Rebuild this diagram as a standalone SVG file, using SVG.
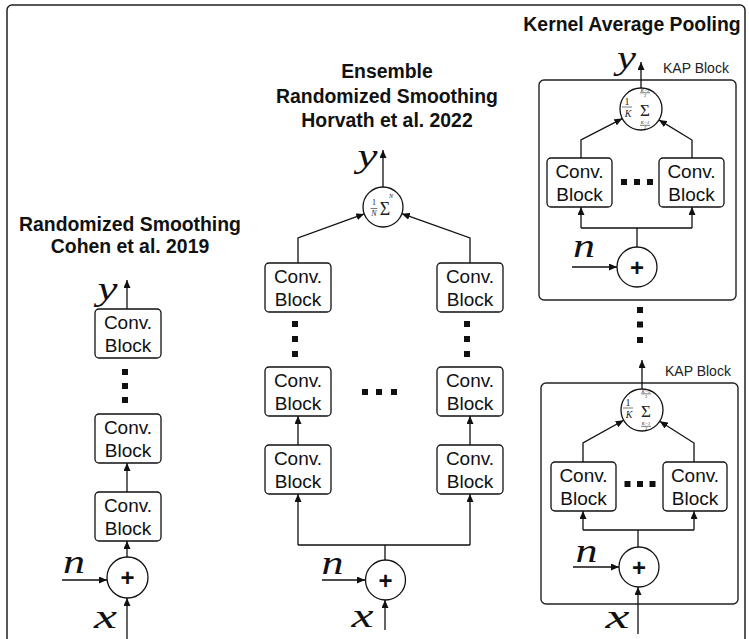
<svg xmlns="http://www.w3.org/2000/svg" width="749" height="639" viewBox="0 0 749 639">
<style>
.box{fill:#fff;stroke:#111;stroke-width:1.3}
.kap{fill:none;stroke:#222;stroke-width:1.4}
.circ{fill:#fff;stroke:#111;stroke-width:1.3}
.cl{font-family:"Liberation Sans",Arial,sans-serif;font-size:19px;fill:#111;text-anchor:middle}
.title{font-family:"Liberation Sans",Arial,sans-serif;font-size:19.4px;font-weight:bold;fill:#111;text-anchor:middle}
.small{font-family:"Liberation Sans",Arial,sans-serif;font-size:14px;fill:#222}
.math{font-family:"Liberation Serif","Times New Roman",serif;font-style:italic;font-size:34px;fill:#111;text-anchor:middle}
.plus{font-family:"Liberation Sans",Arial,sans-serif;font-size:24px;font-weight:bold;fill:#111;text-anchor:middle}
.ser{font-family:"Liberation Serif","Times New Roman",serif;fill:#222;text-anchor:middle}
.it{font-style:italic}
.conn line,.conn path{fill:none;stroke:#111;stroke-width:1.3}
.arr{marker-end:url(#ah)}
.dot{fill:#111}
.bar{stroke:#222;stroke-width:0.6}
</style>
<defs>
<marker id="ah" markerUnits="userSpaceOnUse" markerWidth="8" markerHeight="7" refX="8" refY="3.5" orient="auto">
<path d="M0,0 L8,3.5 L0,7 z" fill="#111"/>
</marker>
</defs>
<rect x="7" y="5" width="738" height="660" rx="5" fill="#fff" stroke="#222" stroke-width="1.5"/>

<!-- Titles -->
<g id="title-left">
<text class="title" x="130" y="231">Randomized Smoothing</text>
<text class="title" x="130" y="253">Cohen et al. 2019</text>
</g>
<g id="title-mid">
<text class="title" x="387" y="78">Ensemble</text>
<text class="title" x="387" y="103">Randomized Smoothing</text>
<text class="title" x="387" y="127">Horvath et al. 2022</text>
</g>
<g id="title-right">
<text class="title" x="632" y="31">Kernel Average Pooling</text>
</g>

<!-- KAP containers -->
<g id="kap1">
<rect class="kap" x="539" y="80" width="197" height="220" rx="5"/>
<text class="small" x="663" y="73">KAP Block</text>
</g>
<g id="kap2">
<rect class="kap" x="541" y="383" width="197" height="221" rx="5"/>
<text class="small" x="665" y="376">KAP Block</text>
</g>

<!-- Connectors -->
<g id="connectors" class="conn">
<!-- left -->
<line class="arr" x1="127" y1="309" x2="127" y2="280"/>
<line class="arr" x1="127" y1="492" x2="127" y2="463"/>
<line class="arr" x1="127" y1="557" x2="127" y2="541"/>
<line class="arr" x1="62" y1="580" x2="107" y2="580"/>
<line class="arr" x1="127" y1="639" x2="127" y2="598"/>
<!-- middle -->
<line class="arr" x1="383" y1="187" x2="383" y2="150"/>
<path class="arr" d="M298,263 V238 L364.2,213.9"/>
<path class="arr" d="M470,263 V238 L401.8,213.7"/>
<line class="arr" x1="298" y1="445" x2="298" y2="416"/>
<line class="arr" x1="470" y1="445" x2="470" y2="416"/>
<path d="M385,560 V545 M298,545 H470"/>
<line class="arr" x1="298" y1="545" x2="298" y2="494"/>
<line class="arr" x1="470" y1="545" x2="470" y2="494"/>
<line class="arr" x1="322" y1="580" x2="365" y2="580"/>
<line class="arr" x1="385" y1="630" x2="385" y2="600"/>
<!-- right top -->
<line class="arr" x1="641" y1="88" x2="641" y2="62"/>
<path class="arr" d="M581,158 V140 L622.3,118.6"/>
<path class="arr" d="M692,158 V140 L658.9,119.9"/>
<path d="M637,247 V228 M581,228 H692"/>
<line class="arr" x1="581" y1="228" x2="581" y2="207"/>
<line class="arr" x1="692" y1="228" x2="692" y2="207"/>
<line class="arr" x1="572" y1="267" x2="617" y2="267"/>
<!-- right bottom -->
<line class="arr" x1="642" y1="389" x2="642" y2="360"/>
<path class="arr" d="M583,462 V443 L623.7,420.3"/>
<path class="arr" d="M694,462 V443 L659.7,421.3"/>
<path d="M638,547 V530 M583,530 H694"/>
<line class="arr" x1="583" y1="530" x2="583" y2="511"/>
<line class="arr" x1="694" y1="530" x2="694" y2="511"/>
<line class="arr" x1="573" y1="567" x2="619" y2="567"/>
<line class="arr" x1="638" y1="634" x2="638" y2="587"/>
</g>

<!-- Left column nodes -->
<g id="L-conv1"><rect class="box" x="95" y="309" width="66" height="49" rx="4"/><text class="cl" x="128" y="329">Conv.</text><text class="cl" x="128" y="352">Block</text></g>
<g id="L-dots"><rect class="dot" x="122" y="369" width="6" height="6"/><rect class="dot" x="122" y="383" width="6" height="6"/><rect class="dot" x="122" y="397" width="6" height="6"/></g>
<g id="L-conv2"><rect class="box" x="95" y="414" width="66" height="49" rx="4"/><text class="cl" x="128" y="434">Conv.</text><text class="cl" x="128" y="457">Block</text></g>
<g id="L-conv3"><rect class="box" x="95" y="492" width="66" height="49" rx="4"/><text class="cl" x="128" y="512">Conv.</text><text class="cl" x="128" y="535">Block</text></g>
<g id="L-plus"><circle class="circ" cx="127.5" cy="577.5" r="20.5"/><text class="plus" x="127.5" y="586">+</text></g>
<g id="L-labels"><text class="math" x="107.5" y="300" textLength="20" lengthAdjust="spacingAndGlyphs">y</text><text class="math" x="74" y="573" textLength="22" lengthAdjust="spacingAndGlyphs">n</text><text class="math" x="105.5" y="628" textLength="23" lengthAdjust="spacingAndGlyphs">x</text></g>

<!-- Middle column nodes -->
<g id="M-sum"><circle class="circ" cx="383" cy="207" r="20"/>
<text class="ser" x="374" y="205" font-size="8">1</text><line class="bar" x1="370.5" y1="208.5" x2="377.5" y2="208.5"/><text class="ser it" x="374" y="216" font-size="8">N</text>
<text class="ser" x="385" y="215" font-size="18">Σ</text><text class="ser it" x="391" y="198" font-size="6">N</text></g>
<g id="M-conv-l1"><rect class="box" x="265" y="263" width="66" height="49" rx="4"/><text class="cl" x="298" y="283">Conv.</text><text class="cl" x="298" y="306">Block</text></g>
<g id="M-conv-r1"><rect class="box" x="437" y="263" width="66" height="49" rx="4"/><text class="cl" x="470" y="283">Conv.</text><text class="cl" x="470" y="306">Block</text></g>
<g id="M-vdots"><rect class="dot" x="292" y="321" width="6" height="6"/><rect class="dot" x="292" y="336" width="6" height="6"/><rect class="dot" x="292" y="351" width="6" height="6"/>
<rect class="dot" x="464" y="321" width="6" height="6"/><rect class="dot" x="464" y="336" width="6" height="6"/><rect class="dot" x="464" y="351" width="6" height="6"/></g>
<g id="M-conv-l2"><rect class="box" x="265" y="367" width="66" height="49" rx="4"/><text class="cl" x="298" y="387">Conv.</text><text class="cl" x="298" y="410">Block</text></g>
<g id="M-conv-r2"><rect class="box" x="437" y="367" width="66" height="49" rx="4"/><text class="cl" x="470" y="387">Conv.</text><text class="cl" x="470" y="410">Block</text></g>
<g id="M-hdots"><rect class="dot" x="362" y="389" width="6" height="6"/><rect class="dot" x="376" y="389" width="6" height="6"/><rect class="dot" x="391" y="389" width="6" height="6"/></g>
<g id="M-conv-l3"><rect class="box" x="265" y="445" width="66" height="49" rx="4"/><text class="cl" x="298" y="465">Conv.</text><text class="cl" x="298" y="488">Block</text></g>
<g id="M-conv-r3"><rect class="box" x="437" y="445" width="66" height="49" rx="4"/><text class="cl" x="470" y="465">Conv.</text><text class="cl" x="470" y="488">Block</text></g>
<g id="M-plus"><circle class="circ" cx="385.5" cy="580" r="20"/><text class="plus" x="385.5" y="588.5">+</text></g>
<g id="M-labels"><text class="math" x="367.5" y="167" textLength="20" lengthAdjust="spacingAndGlyphs">y</text><text class="math" x="332.5" y="574" textLength="22" lengthAdjust="spacingAndGlyphs">n</text><text class="math" x="362.5" y="627" textLength="22" lengthAdjust="spacingAndGlyphs">x</text></g>

<!-- Right top KAP -->
<g id="R1-sum"><circle class="circ" cx="641" cy="109" r="21"/>
<text class="ser" x="627" y="105" font-size="10">1</text><line class="bar" x1="622" y1="107" x2="632" y2="107"/><text class="ser it" x="628" y="117" font-size="10">K</text>
<text class="ser" x="645" y="115.5" font-size="17">Σ</text>
<text class="ser it" x="645" y="91.5" font-size="4.5">K−1</text><line class="bar" x1="640" y1="92.8" x2="650" y2="92.8" stroke-width="0.4"/><text class="ser" x="645" y="97" font-size="4.5">2</text>
<text class="ser it" x="645" y="124" font-size="4.5">K−1</text><line class="bar" x1="640" y1="125.3" x2="650" y2="125.3" stroke-width="0.4"/><text class="ser" x="645" y="129.3" font-size="4.5">2</text></g>
<g id="R1-conv-l"><rect class="box" x="547" y="158" width="65" height="49" rx="4"/><text class="cl" x="579.5" y="178">Conv.</text><text class="cl" x="579.5" y="201">Block</text></g>
<g id="R1-conv-r"><rect class="box" x="659" y="158" width="65" height="49" rx="4"/><text class="cl" x="691.5" y="178">Conv.</text><text class="cl" x="691.5" y="201">Block</text></g>
<g id="R1-hdots"><rect class="dot" x="621" y="179" width="6" height="6"/><rect class="dot" x="634" y="179" width="6" height="6"/><rect class="dot" x="647" y="179" width="6" height="6"/></g>
<g id="R1-plus"><circle class="circ" cx="637" cy="267" r="20"/><text class="plus" x="637" y="275.5">+</text></g>
<g id="R1-labels"><text class="math" x="626.5" y="69" textLength="19" lengthAdjust="spacingAndGlyphs">y</text><text class="math" x="584" y="257" textLength="22" lengthAdjust="spacingAndGlyphs">n</text></g>

<g id="R-vdots"><rect class="dot" x="637" y="307" width="6" height="6"/><rect class="dot" x="637" y="321.5" width="6" height="6"/><rect class="dot" x="637" y="337" width="6" height="6"/></g>

<!-- Right bottom KAP -->
<g id="R2-sum"><circle class="circ" cx="642" cy="410" r="21"/>
<text class="ser" x="628" y="406" font-size="10">1</text><line class="bar" x1="623" y1="408" x2="633" y2="408"/><text class="ser it" x="629" y="418" font-size="10">K</text>
<text class="ser" x="646" y="416.5" font-size="17">Σ</text>
<text class="ser it" x="646" y="392.5" font-size="4.5">K−1</text><line class="bar" x1="641" y1="393.8" x2="651" y2="393.8" stroke-width="0.4"/><text class="ser" x="646" y="398" font-size="4.5">2</text>
<text class="ser it" x="646" y="425" font-size="4.5">K−1</text><line class="bar" x1="641" y1="426.3" x2="651" y2="426.3" stroke-width="0.4"/><text class="ser" x="646" y="430.3" font-size="4.5">2</text></g>
<g id="R2-conv-l"><rect class="box" x="551" y="462" width="65" height="49" rx="4"/><text class="cl" x="583.5" y="482">Conv.</text><text class="cl" x="583.5" y="505">Block</text></g>
<g id="R2-conv-r"><rect class="box" x="663" y="462" width="64" height="49" rx="4"/><text class="cl" x="695" y="482">Conv.</text><text class="cl" x="695" y="505">Block</text></g>
<g id="R2-hdots"><rect class="dot" x="624.5" y="481" width="6" height="6"/><rect class="dot" x="637" y="481" width="6" height="6"/><rect class="dot" x="649.5" y="481" width="6" height="6"/></g>
<g id="R2-plus"><circle class="circ" cx="639" cy="567" r="20"/><text class="plus" x="639" y="575.5">+</text></g>
<g id="R2-labels"><text class="math" x="586.5" y="562" textLength="22" lengthAdjust="spacingAndGlyphs">n</text><text class="math" x="617.5" y="628" textLength="24" lengthAdjust="spacingAndGlyphs">x</text></g>
</svg>
